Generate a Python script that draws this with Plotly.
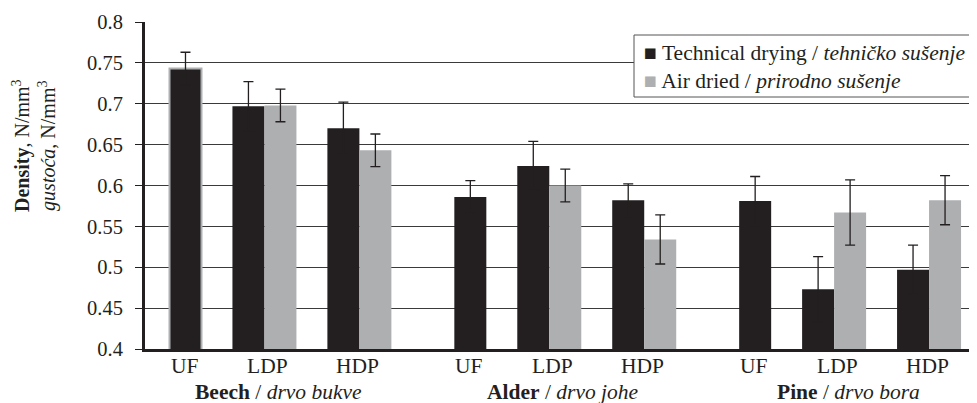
import plotly.graph_objects as go

# ---------------- data ----------------
groups = ["Beech", "Beech", "Beech", "Alder", "Alder", "Alder", "Pine", "Pine", "Pine"]
group_labels = {
    "Beech": "<b>Beech</b> / <i>drvo bukve</i>",
    "Alder": "<b>Alder</b> / <i>drvo johe</i>",
    "Pine": "<b>Pine</b> / <i>drvo bora</i>",
}
subs = ["UF", "LDP", "HDP", "UF", "LDP", "HDP", "UF", "LDP", "HDP"]

technical = [0.743, 0.697, 0.670, 0.586, 0.624, 0.582, 0.581, 0.473, 0.497]
technical_err = [0.02, 0.03, 0.032, 0.02, 0.03, 0.02, 0.03, 0.04, 0.03]
air_dried = [None, 0.698, 0.643, None, 0.600, 0.534, None, 0.567, 0.582]
air_dried_err = [None, 0.02, 0.02, None, 0.02, 0.03, None, 0.04, 0.03]

series_names = ["Technical drying / <i>tehničko sušenje</i>", "Air dried / <i>prirodno sušenje</i>"]

y_ticks = [0.4, 0.45, 0.5, 0.55, 0.6, 0.65, 0.7, 0.75, 0.8]
y_ticklabels = ["0.4", "0.45", "0.5", "0.55", "0.6", "0.65", "0.7", "0.75", "0.8"]

# ---------------- styling ----------------
BLACK = "#231f20"
GRAY = "#aeafb1"
FONT = "Liberation Serif"
FS = 21.5

# page body has an 8px margin; the figure is sized so the plot lands where the reference has it
W, H = 969, 395
ML, MT, MB, MR = 137, 14, 54, 0
PW, PH = W - ML - MR, H - MT - MB


def px_x(page_x):
    return (page_x - 8 - ML) / PW


def px_y(page_y):
    return (H - MB - (page_y - 8)) / PH


keys = [f"{g}|{s}" for g, s in zip(groups, subs)]
is_uf = [s == "UF" for s in subs]

tech_pair = [None if u else v for v, u in zip(technical, is_uf)]
tech_pair_err = [None if u else e for e, u in zip(technical_err, is_uf)]
tech_uf = [v if u else None for v, u in zip(technical, is_uf)]
tech_uf_err = [e if u else None for e, u in zip(technical_err, is_uf)]

err_style = dict(type="data", visible=True, color=BLACK, thickness=1.3, width=5)

fig = go.Figure()
fig.add_trace(go.Bar(
    x=keys, y=tech_pair, name=series_names[0], showlegend=False,
    marker=dict(color=BLACK, line=dict(width=0)), offsetgroup="tech",
    error_y=dict(array=tech_pair_err, **err_style),
))
fig.add_trace(go.Bar(
    x=keys, y=air_dried, name=series_names[1], showlegend=False,
    marker=dict(color=GRAY, line=dict(width=0)), offsetgroup="air",
    error_y=dict(array=air_dried_err, **err_style),
))
# UF samples (technical drying only) occupy the second slot of their category
uf_line_colors = [GRAY if (u and g == "Beech") else "rgba(0,0,0,0)" for u, g in zip(is_uf, groups)]
fig.add_trace(go.Bar(
    x=keys, y=tech_uf, name="Technical drying (UF)", showlegend=False,
    marker=dict(color=BLACK, line=dict(width=2, color=uf_line_colors)), offsetgroup="air",
    error_y=dict(array=tech_uf_err, **err_style),
))

annotations = []
label_shift = {"UF": 15, "LDP": 3, "HDP": -2}
for k, s in zip(keys, subs):
    annotations.append(dict(
        x=k, xref="x", y=0, yref="paper", yanchor="top", yshift=-3,
        xshift=label_shift[s], text=s, showarrow=False,
        font=dict(family=FONT, size=FS, color=BLACK),
    ))
for g in dict.fromkeys(groups):
    mid = [k for k, gg, s in zip(keys, groups, subs) if gg == g and s == "LDP"][0]
    annotations.append(dict(
        x=mid, xref="x", y=0, yref="paper", yanchor="top", yshift=-29,
        xshift=14, text=group_labels[g], showarrow=False,
        font=dict(family=FONT, size=FS, color=BLACK),
    ))
annotations.append(dict(
    x=px_x(34), xref="paper", y=px_y(146), yref="paper", textangle=-90,
    text="<b>Density</b>, N/mm<sup>3</sup><br><i>gustoća</i>, N/mm<sup>3</sup>",
    showarrow=False, xanchor="center", yanchor="middle",
    font=dict(family=FONT, size=20, color=BLACK),
))

# legend box drawn by hand (tight rows like the reference)
shapes = [dict(
    type="rect", xref="paper", yref="paper",
    x0=px_x(634), x1=px_x(971), y0=px_y(97), y1=px_y(35),
    fillcolor="white", line=dict(color="#555555", width=1), layer="above",
)]
for name, col, yc in zip(series_names, [BLACK, GRAY], [53, 81]):
    annotations.append(dict(
        x=px_x(642), xref="paper", y=px_y(yc), yref="paper",
        xanchor="left", yanchor="middle", showarrow=False,
        text=f"<span style='color:{col}'>■</span> {name}",
        font=dict(family=FONT, size=FS, color=BLACK),
    ))

fig.update_layout(
    width=W, height=H,
    margin=dict(l=ML, r=MR, t=MT, b=MB, autoexpand=False),
    paper_bgcolor="white", plot_bgcolor="white",
    barmode="group", bargap=0.326, bargroupgap=0,
    font=dict(family=FONT, size=FS, color=BLACK),
    showlegend=False,
    annotations=annotations,
    shapes=shapes,
    xaxis=dict(
        type="category", range=[-0.258, 8.505],
        showticklabels=False, ticks="", showgrid=False,
        showline=True, linewidth=3, linecolor=BLACK, zeroline=False,
        automargin=False,
    ),
    yaxis=dict(
        range=[0.4, 0.8], tickmode="array", tickvals=y_ticks, ticktext=y_ticklabels,
        showgrid=True, gridcolor="#3a3a3a", gridwidth=1,
        showline=True, linewidth=3, linecolor=BLACK,
        ticks="outside", ticklen=7, tickwidth=1, tickcolor=BLACK,
        ticklabelstandoff=8,
        tickfont=dict(family=FONT, size=20.5, color=BLACK), zeroline=False,
        automargin=False,
    ),
)

fig.write_html("out.html")
